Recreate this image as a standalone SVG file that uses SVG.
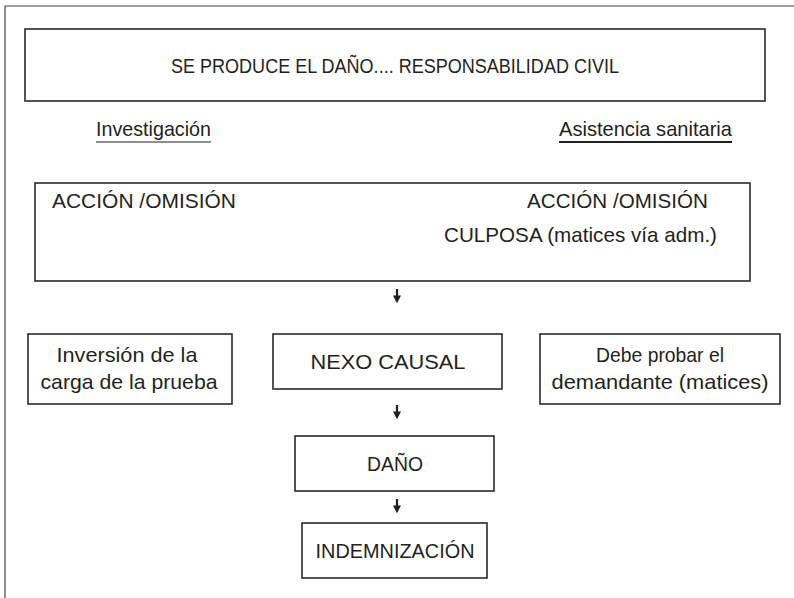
<svg xmlns="http://www.w3.org/2000/svg" width="794" height="598" viewBox="0 0 794 598">
<defs>
<style>
.box{fill:#fff;stroke:#2a2a2a;stroke-width:1.6}
.t{font-family:"Liberation Sans",Arial,sans-serif;font-size:21px;fill:#231f20}
.m{text-anchor:middle}
.conn{stroke:#231f20;stroke-width:2.2;fill:none}
</style>
<marker id="ah" viewBox="0 0 10 10" refX="2" refY="5" markerWidth="8" markerHeight="8" orient="auto" markerUnits="userSpaceOnUse">
<path d="M0,0 L10,5 L0,10 Z" fill="#231f20"/>
</marker>
</defs>
<rect width="794" height="598" fill="#fff"/>
<path d="M5,598 V6 H794" fill="none" stroke="#444" stroke-width="1.2"/>

<g id="n-title">
<rect class="box" x="25" y="29" width="740" height="72"/>
<text class="t m" x="395" y="73" textLength="448" lengthAdjust="spacingAndGlyphs">SE PRODUCE EL DAÑO.... RESPONSABILIDAD CIVIL</text>
</g>
<g id="n-investigacion">
<text class="t" x="96" y="136" textLength="115" lengthAdjust="spacingAndGlyphs">Investigación</text>
<line x1="96" y1="142" x2="211" y2="142" stroke="#231f20" stroke-width="1.2"/>
</g>
<g id="n-asistencia">
<text class="t" x="559" y="136" textLength="173" lengthAdjust="spacingAndGlyphs">Asistencia sanitaria</text>
<line x1="559" y1="142" x2="732" y2="142" stroke="#231f20" stroke-width="2"/>
</g>
<g id="n-accion">
<rect class="box" x="35" y="183" width="715" height="98"/>
<text class="t" x="52" y="208" textLength="184" lengthAdjust="spacingAndGlyphs">ACCIÓN /OMISIÓN</text>
<text class="t" x="527" y="208" textLength="181" lengthAdjust="spacingAndGlyphs">ACCIÓN /OMISIÓN</text>
<text class="t" x="444" y="242" textLength="273" lengthAdjust="spacingAndGlyphs">CULPOSA (matices vía adm.)</text>
</g>
<g id="n-inversion">
<rect class="box" x="28" y="334" width="204" height="70"/>
<text class="t m" x="127" y="362" textLength="141" lengthAdjust="spacingAndGlyphs">Inversión de la</text>
<text class="t m" x="129" y="389" textLength="177" lengthAdjust="spacingAndGlyphs">carga de la prueba</text>
</g>
<g id="n-nexo">
<rect class="box" x="273" y="334" width="229" height="55"/>
<text class="t m" x="388" y="369" textLength="155" lengthAdjust="spacingAndGlyphs">NEXO CAUSAL</text>
</g>
<g id="n-debe">
<rect class="box" x="540" y="334" width="240" height="70"/>
<text class="t m" x="660" y="362" textLength="128" lengthAdjust="spacingAndGlyphs">Debe probar el</text>
<text class="t m" x="660" y="389" textLength="217" lengthAdjust="spacingAndGlyphs">demandante (matices)</text>
</g>
<g id="n-dano">
<rect class="box" x="295" y="436" width="199" height="55"/>
<text class="t m" x="395" y="471" textLength="56" lengthAdjust="spacingAndGlyphs">DAÑO</text>
</g>
<g id="n-indemnizacion">
<rect class="box" x="302" y="523" width="185" height="55"/>
<text class="t m" x="395" y="558" textLength="159" lengthAdjust="spacingAndGlyphs">INDEMNIZACIÓN</text>
</g>
<g id="connectors">
<line class="conn" x1="397" y1="289" x2="397" y2="297" marker-end="url(#ah)"/>
<line class="conn" x1="397" y1="405" x2="397" y2="413" marker-end="url(#ah)"/>
<line class="conn" x1="397" y1="499" x2="397" y2="507" marker-end="url(#ah)"/>
</g>
</svg>
